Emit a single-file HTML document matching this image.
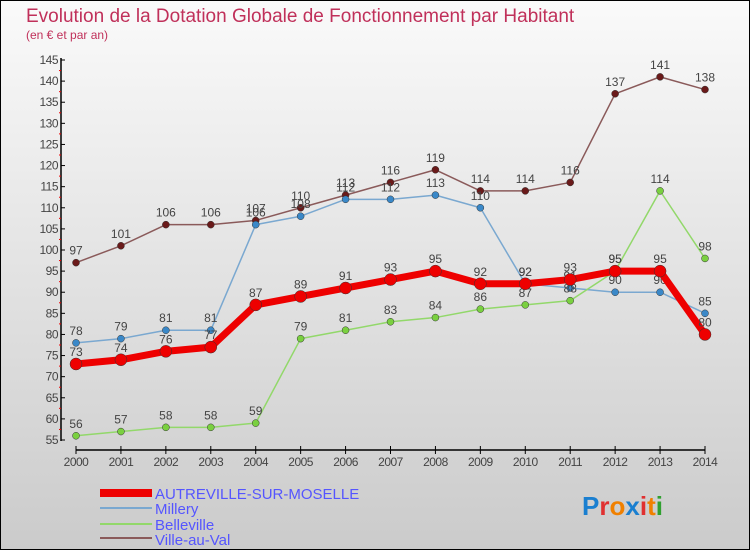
<!DOCTYPE html>
<html><head><meta charset="utf-8"><style>
body{margin:0;}
#wrap{position:relative;width:750px;height:550px;overflow:hidden;font-family:"Liberation Sans",sans-serif;}
</style></head><body>
<div id="wrap">
<svg id="chart" width="750" height="550">
<defs><linearGradient id="bg" x1="0" y1="0" x2="0" y2="1"><stop offset="0" stop-color="#fafafa"/><stop offset="1" stop-color="#cbcbcb"/></linearGradient></defs>
<rect x="0.5" y="0.5" width="749" height="549" fill="url(#bg)" stroke="#000"/>
<text x="26" y="22" font-size="19" fill="#c0305a">Evolution de la Dotation Globale de Fonctionnement par Habitant</text>
<text x="26" y="39" font-size="12" fill="#c0305a">(en € et par an)</text>
<g id="axes"></g><g id="series"></g>
<g>
<rect x="100" y="489" width="52" height="8" fill="#e00"/>
<text x="155" y="499" font-size="15" fill="#55f">AUTREVILLE-SUR-MOSELLE</text>
<rect x="100" y="507" width="52" height="2" fill="#7aa8d0"/>
<text x="155" y="514" font-size="15" fill="#55f">Millery</text>
<rect x="100" y="523" width="52" height="2" fill="#92d86a"/>
<text x="155" y="530" font-size="15" fill="#55f">Belleville</text>
<rect x="100" y="537" width="52" height="2" fill="#8a5a5a"/>
<text x="155" y="545" font-size="15" fill="#55f">Ville-au-Val</text>
</g>
<text x="582" y="515" font-size="26" font-weight="bold"><tspan fill="#1a7fd0">P</tspan><tspan fill="#e03030">r</tspan><tspan fill="#f08000">o</tspan><tspan fill="#1a7fd0">x</tspan><tspan fill="#e03030">i</tspan><tspan fill="#f08000">t</tspan><tspan fill="#30a030">i</tspan></text>
</svg></div>
<script>
const years=[2000,2001,2002,2003,2004,2005,2006,2007,2008,2009,2010,2011,2012,2013,2014];
const autreville=[73,74,76,77,87,89,91,93,95,92,92,93,95,95,80];
const millery=[78,79,81,81,106,108,112,112,113,110,92,91,90,90,85];
const belleville=[56,57,58,58,59,79,81,83,84,86,87,88,95,114,98];
const villeAuVal=[97,101,106,106,107,110,113,116,119,114,114,116,137,141,138];
const yTicks=[55,60,65,70,75,80,85,90,95,100,105,110,115,120,125,130,135,140,145];
const NS="http://www.w3.org/2000/svg";
const xs=i=>76+i*(705-76)/(years.length-1);
const ys=v=>440-(v-55)*(440-60)/90;
function mk(tag,attrs,parent){const e=document.createElementNS(NS,tag);for(const k in attrs)e.setAttribute(k,attrs[k]);parent.appendChild(e);return e;}
const ax=document.getElementById('axes');
let e=mk('line',{x1:61,y1:58,x2:61,y2:441,stroke:'#000','stroke-width':1.5},ax);


e=mk('line',{x1:76,y1:450,x2:705,y2:450,stroke:'#000','stroke-width':1.5},ax);


yTicks.forEach(v=>{
 mk('line',{x1:61,y1:ys(v),x2:65,y2:ys(v),stroke:'#000'},ax);
 if(v<145)mk('line',{x1:59,y1:ys(v+2.5),x2:61,y2:ys(v+2.5),stroke:'#e00'},ax);
 const t=mk('text',{x:58,y:ys(v)+4,'font-size':12,fill:'#444','text-anchor':'end','letter-spacing':'-0.5'},ax);
 t.textContent=v;
 
 
});
years.forEach((y,i)=>{
 mk('line',{x1:xs(i),y1:446,x2:xs(i),y2:454,stroke:'#000'},ax);
 const t=mk('text',{x:xs(i),y:466,'font-size':12,fill:'#444','text-anchor':'middle','letter-spacing':'-0.5'},ax);
 t.textContent=y;
 
 
});
const sg=document.getElementById('series');
function draw(vals,color,w,r,dot,name){
 const g=mk('g',{},sg);
 
 
 const p=mk('polyline',{points:vals.map((v,i)=>xs(i)+','+ys(v)).join(' '),fill:'none',stroke:color,'stroke-width':w,'stroke-linejoin':'round'},g);
 
 
 vals.forEach((v,i)=>{
  const c=mk('circle',{cx:xs(i),cy:ys(v),r:r,fill:dot,stroke:'#333','stroke-width':0.5},g);
  
  
  const t=mk('text',{x:xs(i),y:ys(v)-8,'font-size':12,fill:'#444','text-anchor':'middle'},g);
  t.textContent=v;
  
  
 });
}
draw(villeAuVal,'#8a5a5a',1.5,3.5,'#6a1a1a','ville-au-val');
draw(millery,'#7aa8d0',1.5,3.5,'#3a88c8','millery');
draw(belleville,'#92d86a',1.5,3.5,'#7ad040','belleville');
draw(autreville,'#e00',7,6,'#e00','autreville');
</script>
</body></html>
